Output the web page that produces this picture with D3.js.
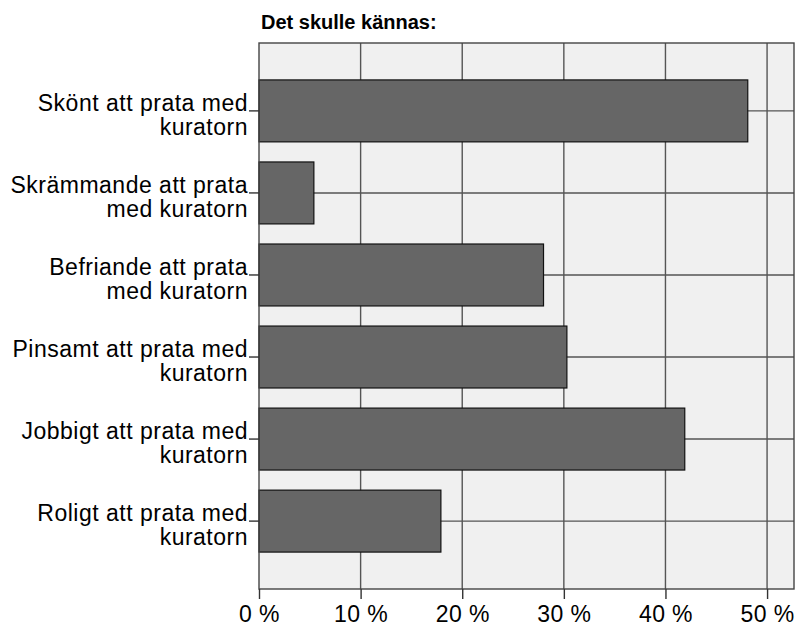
<!DOCTYPE html>
<html>
<head>
<meta charset="utf-8">
<script src="https://cdn.jsdelivr.net/npm/d3@7"></script>
<style>
  body { margin: 0; background: #fff; }
  text { font-family: "Liberation Sans", Arial, sans-serif; fill: #000; }
</style>
</head>
<body>
<div id="graphDiv"></div>
<script>
// data
var categories = [
  "Skönt att prata med kuratorn",
  "Skrämmande att prata med kuratorn",
  "Befriande att prata med kuratorn",
  "Pinsamt att prata med kuratorn",
  "Jobbigt att prata med kuratorn",
  "Roligt att prata med kuratorn"
];
var percents = [48.1, 5.4, 28.0, 30.3, 41.9, 17.9];
var xTicks = [0, 10, 20, 30, 40, 50];
var title = "Det skulle kännas:";

var margin = {top: 43, right: 5, bottom: 38, left: 259},
    width = 799 - margin.left - margin.right,
    height = 627 - margin.top - margin.bottom;

var svg = d3.select("#graphDiv")
  .append("svg")
    .attr("width", 799)
    .attr("height", 627)
  .append("g")
    .attr("transform", "translate(" + margin.left + "," + margin.top + ")");

var x = d3.scaleLinear()
  .domain([0, 52.65])
  .range([0, width]);

var y = d3.scaleBand()
  .domain(categories)
  .range([0, height])
  .paddingInner(0.245)
  .paddingOuter(0.45);

// background
svg.append("rect")
  .attr("width", width)
  .attr("height", height)
  .style("fill", "#f0f0f0");

// grid lines
svg.append("g")
  .selectAll("line")
  .data(xTicks.slice(1))
  .enter()
  .append("line")
    .attr("x1", function (d) { return x(d); })
    .attr("x2", function (d) { return x(d); })
    .attr("y1", 0)
    .attr("y2", height)
    .style("stroke", "#555")
    .style("stroke-width", 1.4);

svg.append("g")
  .selectAll("line")
  .data(categories)
  .enter()
  .append("line")
    .attr("x1", 0)
    .attr("x2", width)
    .attr("y1", function (d) { return y(d) + y.bandwidth() / 2; })
    .attr("y2", function (d) { return y(d) + y.bandwidth() / 2; })
    .style("stroke", "#555")
    .style("stroke-width", 1.4);

// bars
svg.append("g")
  .selectAll("rect")
  .data(categories)
  .enter()
  .append("rect")
    .attr("x", 0)
    .attr("y", function (d) { return y(d); })
    .attr("width", function (d, i) { return x(percents[i]); })
    .attr("height", y.bandwidth())
    .style("fill", "#666666")
    .style("stroke", "#111")
    .style("stroke-width", 1.2);

// plot frame
svg.append("rect")
  .attr("width", width)
  .attr("height", height)
  .style("fill", "none")
  .style("stroke", "#444")
  .style("stroke-width", 1.4);

// X axis
var xAxis = svg.append("g")
  .attr("transform", "translate(0," + height + ")")
  .call(d3.axisBottom(x)
    .tickValues(xTicks)
    .tickSize(10)
    .tickFormat(function (d) { return d + " %"; }));
xAxis.select(".domain").remove();
xAxis.selectAll("line").style("stroke", "#333").style("stroke-width", 1.4);
xAxis.selectAll("text")
  .attr("y", 17)
  .attr("dy", "0.71em")
  .style("font-size", "23px")
  .style("letter-spacing", "0.4px");

// Y axis
var yAxis = svg.append("g")
  .call(d3.axisLeft(y).tickSize(10).tickPadding(1));
yAxis.select(".domain").remove();
yAxis.selectAll("line").style("stroke", "#333").style("stroke-width", 1.4);
yAxis.selectAll("text")
  .attr("dy", 0)
  .style("font-size", "23px")
  .style("letter-spacing", "0.5px")
  .call(wrap, 246);

// wrap the category labels onto two lines, first line on the tick
function wrap(texts, maxWidth) {
  texts.each(function () {
    var t = d3.select(this);
    var words = t.text().split(" ");
    var xPos = t.attr("x");
    t.text(null);
    var line = [];
    var tspan = t.append("tspan").attr("x", xPos).attr("dy", 0);
    words.forEach(function (w) {
      line.push(w);
      tspan.text(line.join(" "));
      if (tspan.node().getComputedTextLength() > maxWidth && line.length > 1) {
        line.pop();
        tspan.text(line.join(" "));
        line = [w];
        tspan = t.append("tspan").attr("x", xPos).attr("dy", 24).text(w);
      }
    });
  });
}

// title
svg.append("text")
  .attr("x", 2)
  .attr("y", 29 - margin.top)
  .style("font-size", "20px")
  .style("font-weight", "bold")
  .text(title);
</script>
</body>
</html>
